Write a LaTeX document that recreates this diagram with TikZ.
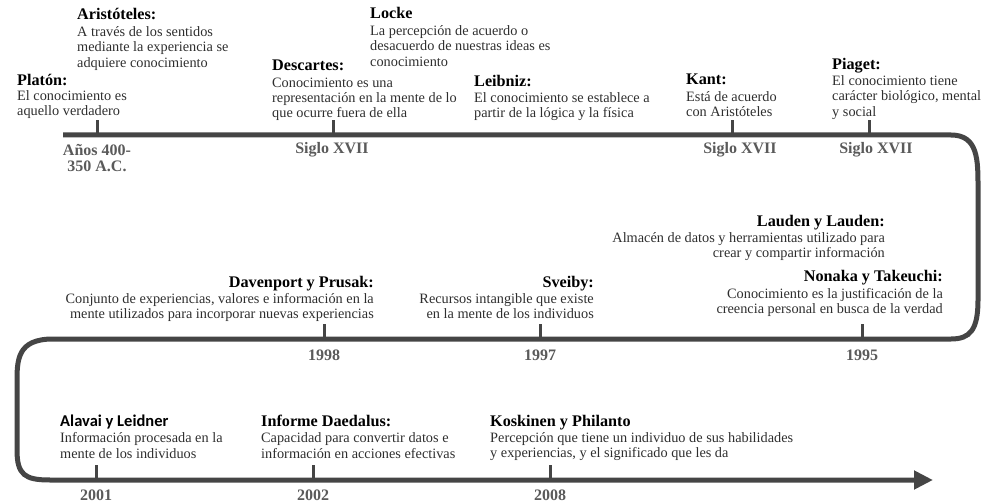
\documentclass[tikz,border=0pt]{standalone}
\usepackage{fontspec}
\setmainfont{Liberation Serif}
\newfontfamily\calib{Carlito}
\usetikzlibrary{arrows.meta}
\definecolor{linecol}{HTML}{454545}
\definecolor{bodycol}{HTML}{2E2E2E}
\definecolor{lblcol}{HTML}{5A5A5A}
\newcommand\tlt[1]{{\fontsize{16.2}{16}\selectfont\bfseries\color{black}#1}}
\begin{document}
\begin{tikzpicture}[x=1pt,y=-1pt,
  blk/.style={anchor=north west, align=left, inner sep=0pt, font=\fontsize{14.3}{15.2}\selectfont, text=bodycol},
  blkr/.style={blk, anchor=north east, align=right},
  lbl/.style={inner sep=0pt, font=\fontsize{16}{16.5}\selectfont\bfseries, text=lblcol, align=center},
  tline/.style={line width=5pt, draw=linecol},
  tick/.style={line width=3pt, draw=linecol}]
\useasboundingbox (0,0) rectangle (981,502);

% timeline
\coordinate (s) at (63,135);
\coordinate (e) at (933,480);
\draw[tline, -{Triangle[length=19pt,width=18pt]}]
  (s) -- (951,135) .. controls (978,135) and (978,160) .. (978,187)
  -- (978,300) .. controls (978,330) and (970,339) .. (951,339)
  -- (53,339) .. controls (17,339) and (17,360) .. (17,383)
  -- (17,450) .. controls (17,475) and (25,480) .. (50,480) -- (e);

% ticks
\foreach \n/\x/\y in {t1/97/135, t2/333/135, t3/732/135, t4/869/135,
                      m1/862/339, m2/540/339, m3/324/339,
                      b1/96/480, b2/313/480, b3/550/480}{
  \coordinate (\n) at (\x,\y);
  \draw[tick] (\n) -- ++(0,-15);
}

% top row
\node[blk] (platon) at (17,74) {\tlt{Platón:}\\El conocimiento es\\aquello verdadero};
\node[blk] (arist) at (77,8) {\tlt{Aristóteles:}\\[2pt]A través de los sentidos\\mediante la experiencia se\\adquiere conocimiento};
\node[blk] (desc) at (272,60) {\tlt{Descartes:}\\[1pt]Conocimiento es una\\representación en la mente de lo\\que ocurre fuera de ella};
\node[blk] (locke) at (370,7) {\tlt{Locke}\\[2pt]La percepción de acuerdo o\\desacuerdo de nuestras ideas es\\conocimiento};
\node[blk] (leib) at (474,75) {\tlt{Leibniz:}\\[1pt]El conocimiento se establece a\\partir de la lógica y la física};
\node[blk] (kant) at (686,74) {\tlt{Kant:}\\[1pt]Está de acuerdo\\con Aristóteles};
\node[blk] (piaget) at (832,58) {\tlt{Piaget:}\\[1pt]El conocimiento tiene\\carácter biológico, mental\\y social};

\node[lbl] (l1) at (97,158) {Años 400-\\350 A.C.};
\node[lbl] (l2) at (332,150) {Siglo XVII};
\node[lbl] (l3) at (740,150) {Siglo XVII};
\node[lbl] (l4) at (876,150) {Siglo XVII};

% middle row
\node[blkr] (lauden) at (885,215) {\tlt{Lauden y Lauden:}\\[1pt]Almacén de datos y herramientas utilizado para\\crear y compartir información};
\node[blkr] (nonaka) at (943,270) {\tlt{Nonaka y Takeuchi:}\\[2pt]Conocimiento es la justificación de la\\creencia personal en busca de la verdad};
\node[blkr] (daven) at (374,276) {\tlt{Davenport y Prusak:}\\[1pt]Conjunto de experiencias, valores e información en la\\mente utilizados para incorporar nuevas experiencias};
\node[blkr] (sveiby) at (594,276) {\tlt{Sveiby:}\\[1pt]Recursos intangible que existe\\en la mente de los individuos};

\node[lbl] (l5) at (862,355) {1995};
\node[lbl] (l6) at (540,355) {1997};
\node[lbl] (l7) at (324,355) {1998};

% bottom row
\node[blk] (alavai) at (60,415) {{\calib\fontsize{16.5}{16}\selectfont\bfseries\color{black}Alavai y Leidner}\\[1pt]Información procesada en la\\mente de los individuos};
\node[blk] (daed) at (261,415) {\tlt{Informe Daedalus:}\\[1pt]Capacidad para convertir datos e\\información en acciones efectivas};
\node[blk] (kosk) at (490,415) {\tlt{Koskinen y Philanto}\\[1pt]Percepción que tiene un individuo de sus habilidades\\y experiencias, y el significado que les da};

\node[lbl] (l8) at (96,495) {2001};
\node[lbl] (l9) at (313,495) {2002};
\node[lbl] (l10) at (550,495) {2008};
\end{tikzpicture}
\end{document}
